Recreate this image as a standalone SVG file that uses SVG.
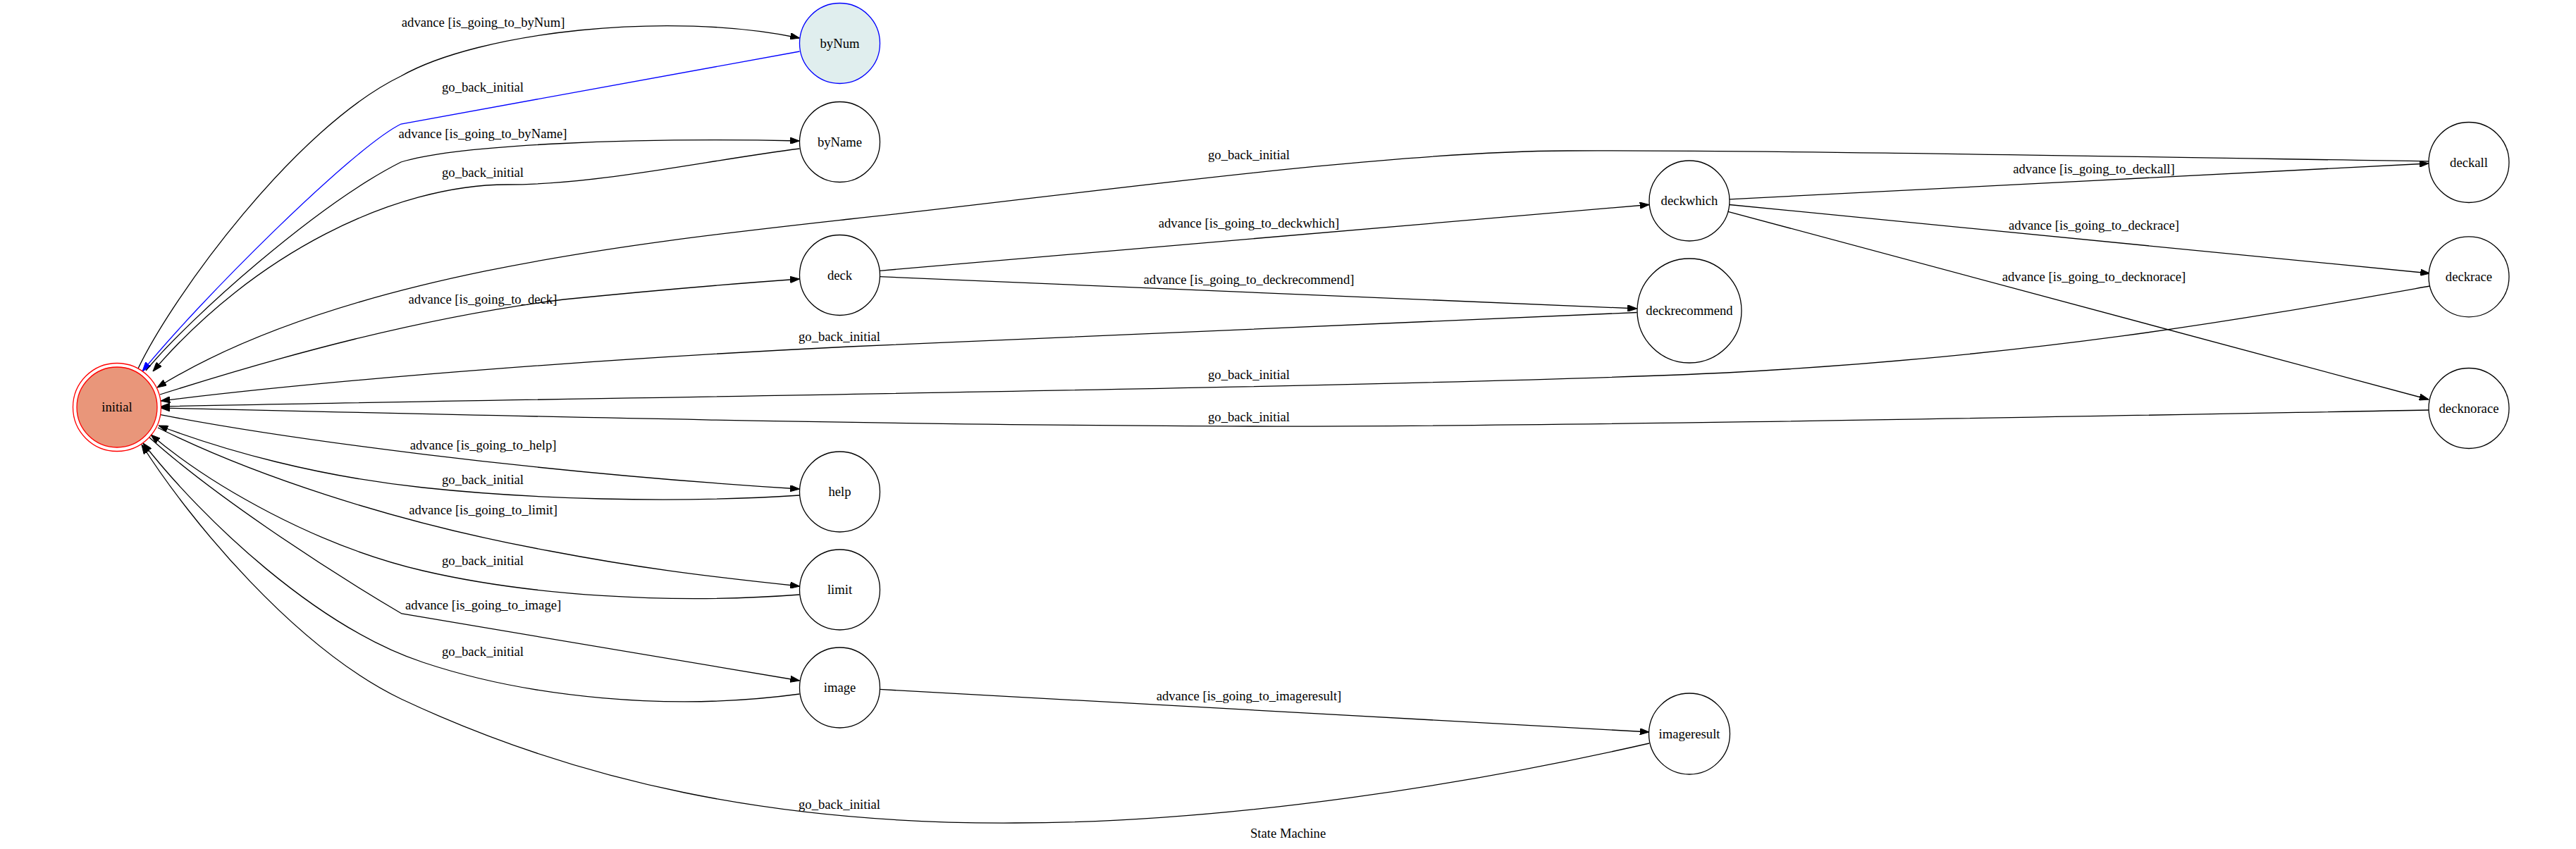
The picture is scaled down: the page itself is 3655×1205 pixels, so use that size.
<svg xmlns="http://www.w3.org/2000/svg" width="3655" height="1205" viewBox="0 0 3655 1205">
<style>
text{font-family:"Liberation Serif","Times New Roman",serif;font-size:18.67px;fill:#000;text-anchor:middle}
.node{fill:#fff;stroke:#000;stroke-width:1.3}
.e{fill:none;stroke:#000;stroke-width:1.3;marker-end:url(#arr)}
.eb{fill:none;stroke:#0000ff;stroke-width:1.3;marker-end:url(#arrb)}
</style>
<defs>
<marker id="arr" viewBox="0 0 13.3 9.4" refX="13.3" refY="4.7" markerWidth="13.3" markerHeight="9.4" markerUnits="userSpaceOnUse" orient="auto"><path d="M0,0 L13.3,4.7 L0,9.4 Z" fill="#000" stroke="#000" stroke-width="1"/></marker>
<marker id="arrb" viewBox="0 0 13.3 9.4" refX="13.3" refY="4.7" markerWidth="13.3" markerHeight="9.4" markerUnits="userSpaceOnUse" orient="auto"><path d="M0,0 L13.3,4.7 L0,9.4 Z" fill="#0000ff" stroke="#0000ff" stroke-width="1"/></marker>
</defs>
<rect x="0" y="0" width="3655" height="1205" fill="#fff"/>
<g id="edges">
<path class="e" d="M196,523 C245,420 420,180 569,108 C680,45 950,15 1134.5,54"/>
<text x="685.6" y="38">advance [is_going_to_byNum]</text>
<path class="eb" d="M1134.5,73 L569,176 C500,210 280,430 202,527"/>
<text x="685" y="130">go_back_initial</text>
<path class="e" d="M207,526 C270,450 450,290 569,230 C650,205 900,195 1134.5,200"/>
<text x="685" y="196">advance [is_going_to_byName]</text>
<path class="e" d="M1134.5,211 C1000,228 850,262 720,262 C560,262 360,360 217,527"/>
<text x="685" y="251">go_back_initial</text>
<path class="e" d="M3446,229 C3000,222 2500,213 2224,214 C1950,215 1500,280 1205,311 C900,345 480,390 223,550"/>
<text x="1772" y="226">go_back_initial</text>
<path class="e" d="M227,560 C400,505 600,450 800,425 C950,410 1050,402 1134.5,396"/>
<text x="685" y="431">advance [is_going_to_deck]</text>
<path class="e" d="M2322.6,443.5 C1900,462 1500,478 1205,492 C900,507 500,535 228,569"/>
<text x="1191" y="484">go_back_initial</text>
<path class="e" d="M3447.7,406 C3200,450 2900,505 2450,529 C2000,550 800,565 228,577"/>
<text x="1772" y="538">go_back_initial</text>
<path class="e" d="M3446,582 C3000,590 2200,606 1772,605 C1300,604 700,590 228,579"/>
<text x="1772" y="597.6">go_back_initial</text>
<path class="e" d="M227.8,588.7 C400,622 750,670 1134.5,694"/>
<text x="685.6" y="637.6">advance [is_going_to_help]</text>
<path class="e" d="M1134.5,703 C950,715 750,708 600,692 C450,676 320,640 225,604"/>
<text x="685" y="686.7">go_back_initial</text>
<path class="e" d="M224,607 C350,670 550,740 780,782 C900,805 1000,818 1134.5,832"/>
<text x="685.6" y="729.6">advance [is_going_to_limit]</text>
<path class="e" d="M1134.5,844 C950,858 750,845 600,810 C450,775 300,690 214,617"/>
<text x="685" y="802">go_back_initial</text>
<path class="e" d="M212,621 C300,700 450,800 570,871 L1134.5,966"/>
<text x="685.6" y="865.4">advance [is_going_to_image]</text>
<path class="e" d="M1134.5,985 C950,1010 750,990 600,940 C450,890 290,740 203,629"/>
<text x="685" y="930.5">go_back_initial</text>
<path class="e" d="M2340,1055 C2100,1110 1750,1168 1440,1168 C1100,1170 820,1110 569,992 C420,920 270,740 201,631"/>
<text x="1191" y="1148">go_back_initial</text>
<path class="e" d="M1248,384.3 L2340,290.5"/>
<text x="1772" y="323">advance [is_going_to_deckwhich]</text>
<path class="e" d="M1248,392.7 L2322.6,438"/>
<text x="1772" y="403">advance [is_going_to_deckrecommend]</text>
<path class="e" d="M1248,978.4 L2340,1039"/>
<text x="1772" y="994">advance [is_going_to_imageresult]</text>
<path class="e" d="M2453.8,282.8 L3446,232"/>
<text x="2971" y="246">advance [is_going_to_deckall]</text>
<path class="e" d="M2453.8,290.5 L3447.6,388"/>
<text x="2971" y="325.5">advance [is_going_to_deckrace]</text>
<path class="e" d="M2450,299.8 L3446,567"/>
<text x="2971" y="399">advance [is_going_to_decknorace]</text>
</g>
<g id="node-initial">
<circle cx="166" cy="578" r="62.5" fill="none" stroke="#ff0000" stroke-width="1.3"/>
<circle cx="166" cy="578" r="57" fill="#e9967a" stroke="#ff0000" stroke-width="1.3"/>
<text x="166" y="584">initial</text>
</g>
<g id="node-byNum"><circle cx="1191.5" cy="61.5" r="57" fill="#e0eeee" stroke="#0000ff" stroke-width="1.3"/><text x="1191.5" y="67.5">byNum</text></g>
<g id="node-byName"><circle class="node" cx="1191.5" cy="201.5" r="57"/><text x="1191.5" y="207.5">byName</text></g>
<g id="node-deck"><circle class="node" cx="1191.5" cy="390.5" r="57"/><text x="1191.5" y="396.5">deck</text></g>
<g id="node-help"><circle class="node" cx="1191.5" cy="698" r="57"/><text x="1191.5" y="704">help</text></g>
<g id="node-limit"><circle class="node" cx="1191.5" cy="837" r="57"/><text x="1191.5" y="843">limit</text></g>
<g id="node-image"><circle class="node" cx="1191.5" cy="976" r="57"/><text x="1191.5" y="982">image</text></g>
<g id="node-deckwhich"><circle class="node" cx="2397" cy="285" r="57"/><text x="2397" y="291">deckwhich</text></g>
<g id="node-deckrecommend"><circle class="node" cx="2397" cy="441" r="74"/><text x="2397" y="447">deckrecommend</text></g>
<g id="node-imageresult"><circle class="node" cx="2397" cy="1041.5" r="57.5"/><text x="2397" y="1047.5">imageresult</text></g>
<g id="node-deckall"><circle class="node" cx="3503" cy="230.5" r="57"/><text x="3503" y="236.5">deckall</text></g>
<g id="node-deckrace"><circle class="node" cx="3503" cy="392.8" r="57"/><text x="3503" y="398.8">deckrace</text></g>
<g id="node-decknorace"><circle class="node" cx="3503" cy="579.5" r="57"/><text x="3503" y="585.5">decknorace</text></g>
<g id="title"><text x="1827.6" y="1189">State Machine</text></g>
</svg>
